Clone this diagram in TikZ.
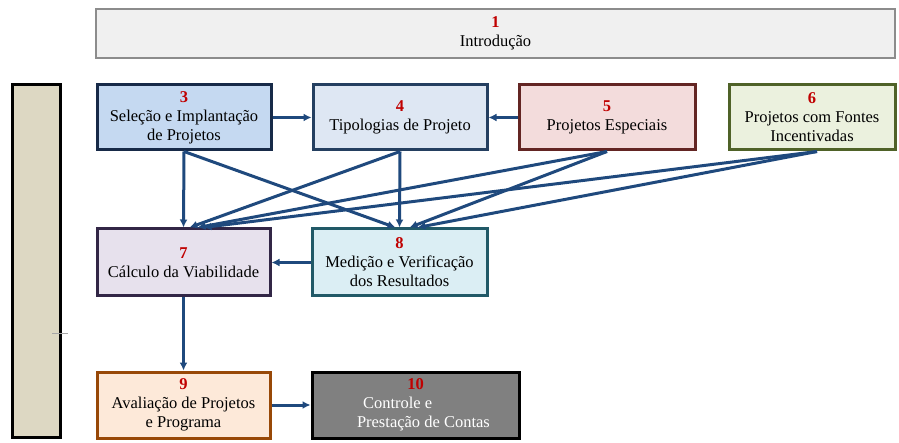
\documentclass[tikz,border=0pt]{standalone}
\usepackage{fontspec}
\setmainfont{Liberation Serif}
\usetikzlibrary{arrows.meta}
\definecolor{numred}{RGB}{192,0,0}
\definecolor{linkblue}{RGB}{31,73,125}
\newcommand{\num}[1]{{\color{numred}\bfseries #1}}
\begin{document}
\begin{tikzpicture}[x=1pt,y=-1pt,
    box/.style={draw,line width=3pt,align=center,inner sep=2pt,
        font=\fontsize{16.5}{19}\selectfont},
    link/.style={draw=linkblue,line width=3pt,-{Latex[length=8pt,width=8pt]}}]
    \useasboundingbox (0,0) rectangle (899,443);
    % title and side bar
    \node[box,draw=black!45,fill=black!6,line width=2.5pt,minimum width=799pt,minimum height=49pt] (intro) at (495.5,33.5) {\num{1}\\Introdução};
    \node[draw,line width=3pt,fill={rgb,255:red,221;green,216;blue,195},minimum width=48pt,minimum height=352pt] (side) at (36,261) {};
    \draw[black!35,line width=0.8pt] (52,333) -- (68,333);
    % first row
    \node[box,draw={rgb,255:red,23;green,42;blue,72},fill={rgb,255:red,197;green,217;blue,241},minimum width=174pt,minimum height=65pt] (selecao) at (184,117.5) {\num{3}\\Seleção e Implantação\\de Projetos};
    \node[box,draw={rgb,255:red,36;green,63;blue,96},fill={rgb,255:red,222;green,231;blue,243},minimum width=174pt,minimum height=65pt] (tipologias) at (400,117.5) {\num{4}\\Tipologias de Projeto};
    \node[box,draw={rgb,255:red,99;green,37;blue,35},fill={rgb,255:red,243;green,220;blue,220},minimum width=176pt,minimum height=65pt] (especiais) at (607,117.5) {\num{5}\\Projetos Especiais};
    \node[box,draw={rgb,255:red,79;green,98;blue,40},fill={rgb,255:red,235;green,241;blue,222},minimum width=166pt,minimum height=65pt] (fontes) at (812,117.5) {\num{6}\\Projetos com Fontes\\Incentivadas};
    % second row
    \node[box,draw={rgb,255:red,50;green,38;blue,70},fill={rgb,255:red,231;green,225;blue,237},minimum width=173pt,minimum height=67pt] (calculo) at (183.5,262.5) {\num{7}\\Cálculo da Viabilidade};
    \node[box,draw={rgb,255:red,33;green,89;blue,103},fill={rgb,255:red,219;green,238;blue,244},minimum width=175pt,minimum height=67pt] (medicao) at (399.5,262.5) {\num{8}\\Medição e Verificação\\dos Resultados};
    % third row
    \node[box,draw={rgb,255:red,152;green,72;blue,7},fill={rgb,255:red,253;green,233;blue,217},minimum width=173pt,minimum height=66pt] (avaliacao) at (183.5,405) {\num{9}\\Avaliação de Projetos\\e Programa};
    \node[box,draw=black,fill=black!50,text=white,minimum width=207pt,minimum height=66pt] (controle) at (415.5,405) {\num{10}\\\makebox[117pt][l]{\hspace{6pt}Controle e}\\\makebox[117pt][l]{Prestação de Contas}};
    % connectors
    \draw[link] (selecao) -- (tipologias);
    \draw[link] (especiais) -- (tipologias);
    \draw[link] (selecao.south) -- (calculo.north);
    \draw[link] (selecao.south) -- ([xshift=-4pt]medicao.north);
    \draw[link] (tipologias.south) -- ([xshift=6pt]calculo.north);
    \draw[link] (tipologias.south) -- (medicao.north);
    \draw[link] (especiais.south) -- ([xshift=14pt]calculo.north);
    \draw[link] (especiais.south) -- ([xshift=10pt]medicao.north);
    \draw[link] ([xshift=5pt]fontes.south) -- ([xshift=20pt]calculo.north);
    \draw[link] ([xshift=5pt]fontes.south) -- ([xshift=18pt]medicao.north);
    \draw[link] (medicao) -- (calculo);
    \draw[link] (calculo) -- (avaliacao);
    \draw[link] (avaliacao) -- (controle);
\end{tikzpicture}
\end{document}
